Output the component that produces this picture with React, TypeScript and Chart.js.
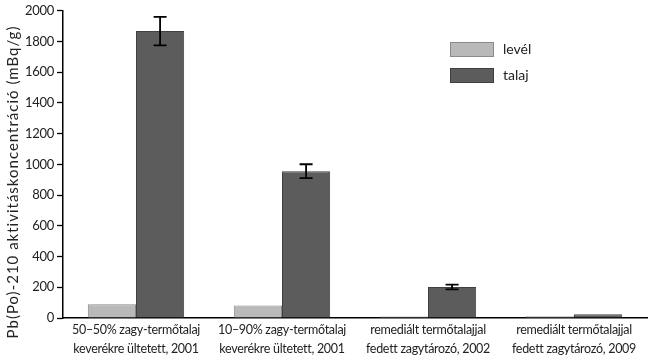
import React, { useEffect, useRef } from "react";
import { Chart, registerables } from "chart.js";

Chart.register(...registerables);

const categories: string[][] = [
  ["50–50% zagy-termőtalaj", "keverékre ültetett, 2001"],
  ["10–90% zagy-termőtalaj", "keverékre ültetett, 2001"],
  ["remediált termőtalajjal", "fedett zagytározó, 2002"],
  ["remediált termőtalajjal", "fedett zagytározó, 2009"],
];
const levelValues = [90, 82, 9, 12];
const talajValues = [1868, 956, 202, 24];
const talajErrors = [93, 45, 15, 0];
const levelErrors = [0, 0, 0, 0];
const yTicks = [0, 200, 400, 600, 800, 1000, 1200, 1400, 1600, 1800, 2000];
const yTitle = "Pb(Po)-210 aktivitáskoncentráció (mBq/g)";
const legendLabels = ["levél", "talaj"];

const FONT = "Lato, 'Open Sans', sans-serif";
const LEVEL_FILL = "#b9b9b9";
const LEVEL_BORDER = "#8a8a8a";
const TALAJ_FILL = "#5c5c5c";
const TALAJ_BORDER = "#404040";

const spacingPlugin = {
  id: "tightText",
  beforeDraw(chart: any) {
    try {
      chart.ctx.letterSpacing = "-0.3px";
    } catch (e) {}
  },
};

const errorBarPlugin = {
  id: "errorBars",
  afterDatasetsDraw(chart: any) {
    const ctx = chart.ctx;
    const y = chart.scales.y;
    const errs = [levelErrors, talajErrors];
    chart.data.datasets.forEach((ds: any, di: number) => {
      const meta = chart.getDatasetMeta(di);
      meta.data.forEach((bar: any, i: number) => {
        const e = errs[di][i];
        if (!e) return;
        const v = ds.data[i];
        const top = y.getPixelForValue(v + e);
        const bot = y.getPixelForValue(v - e);
        const x = bar.x;
        ctx.save();
        ctx.strokeStyle = "#000";
        ctx.lineWidth = 1.8;
        ctx.beginPath();
        ctx.moveTo(x, top);
        ctx.lineTo(x, bot);
        ctx.moveTo(x - 6.5, top);
        ctx.lineTo(x + 6.5, top);
        ctx.moveTo(x - 6.5, bot);
        ctx.lineTo(x + 6.5, bot);
        ctx.stroke();
        ctx.restore();
      });
    });
  },
};

const legendPlugin = {
  id: "customLegend",
  afterDraw(chart: any) {
    const ctx = chart.ctx;
    const area = chart.chartArea;
    const x0 = area.right - 197;
    const items = [
      { label: legendLabels[0], fill: LEVEL_FILL, border: LEVEL_BORDER, y: 42 },
      { label: legendLabels[1], fill: TALAJ_FILL, border: TALAJ_BORDER, y: 68 },
    ];
    ctx.save();
    try {
      (ctx as any).letterSpacing = "0px";
    } catch (e) {}
    items.forEach((it) => {
      ctx.fillStyle = it.fill;
      ctx.fillRect(x0, it.y, 44, 15);
      ctx.strokeStyle = it.border;
      ctx.lineWidth = 1;
      ctx.strokeRect(x0 + 0.5, it.y + 0.5, 43, 14);
      ctx.fillStyle = "#222";
      ctx.font = `14px ${FONT}`;
      ctx.textBaseline = "middle";
      ctx.textAlign = "left";
      ctx.fillText(it.label, x0 + 53, it.y + 7);
    });
    // y-axis title
    ctx.translate(13, chart.height / 2);
    ctx.rotate(-Math.PI / 2);
    ctx.font = `15px ${FONT}`;
    try {
      (ctx as any).letterSpacing = "1px";
    } catch (e) {}
    ctx.textAlign = "center";
    ctx.textBaseline = "middle";
    ctx.fillStyle = "#222";
    ctx.fillText(yTitle, 0, 0);
    ctx.restore();
  },
};

export default function App() {
  const ref = useRef<HTMLCanvasElement>(null);
  useEffect(() => {
    document.body.style.margin = "0";
    const chart = new Chart(ref.current!, {
      type: "bar",
      data: {
        labels: categories,
        datasets: [
          {
            label: legendLabels[0],
            data: levelValues,
            backgroundColor: LEVEL_FILL,
            borderColor: LEVEL_BORDER,
            borderWidth: 1,
            borderSkipped: "bottom",
          },
          {
            label: legendLabels[1],
            data: talajValues,
            backgroundColor: TALAJ_FILL,
            borderColor: TALAJ_BORDER,
            borderWidth: 1,
            borderSkipped: "bottom",
          },
        ],
      },
      options: {
        responsive: false,
        animation: false,
        layout: { padding: { top: 5, right: 3, left: 0, bottom: 0 } },
        plugins: { legend: { display: false }, tooltip: { enabled: false } },
        datasets: { bar: { categoryPercentage: 0.66, barPercentage: 1 } },
        scales: {
          x: {
            grid: { display: false, drawTicks: false },
            border: { display: true, color: "#000", width: 1.5 },
            ticks: {
              color: "#222",
              font: { family: FONT, size: 12.5, lineHeight: 1.55 },
              padding: 2,
              maxRotation: 0,
              autoSkip: false,
            },
            afterFit(scale: any) {
              scale.height = 46;
            },
          },
          y: {
            min: 0,
            max: 2000,
            afterBuildTicks(scale: any) {
              scale.ticks = yTicks.map((v) => ({ value: v }));
            },
            grid: {
              drawOnChartArea: false,
              drawTicks: true,
              tickLength: 6,
              color: "#000",
              tickWidth: 1.3,
            },
            border: { display: true, color: "#000", width: 1.5 },
            ticks: {
              color: "#222",
              font: { family: FONT, size: 13 },
              padding: 3,
              callback: (v: any) => String(v),
            },
            afterFit(scale: any) {
              scale.width = 63;
            },
          },
        },
      },
      plugins: [spacingPlugin, errorBarPlugin, legendPlugin],
    });
    return () => chart.destroy();
  }, []);
  return (
    <div style={{ position: "absolute", left: 0, top: 0, width: 650, height: 364 }}>
      <canvas ref={ref} width={650} height={364} />
    </div>
  );
}
